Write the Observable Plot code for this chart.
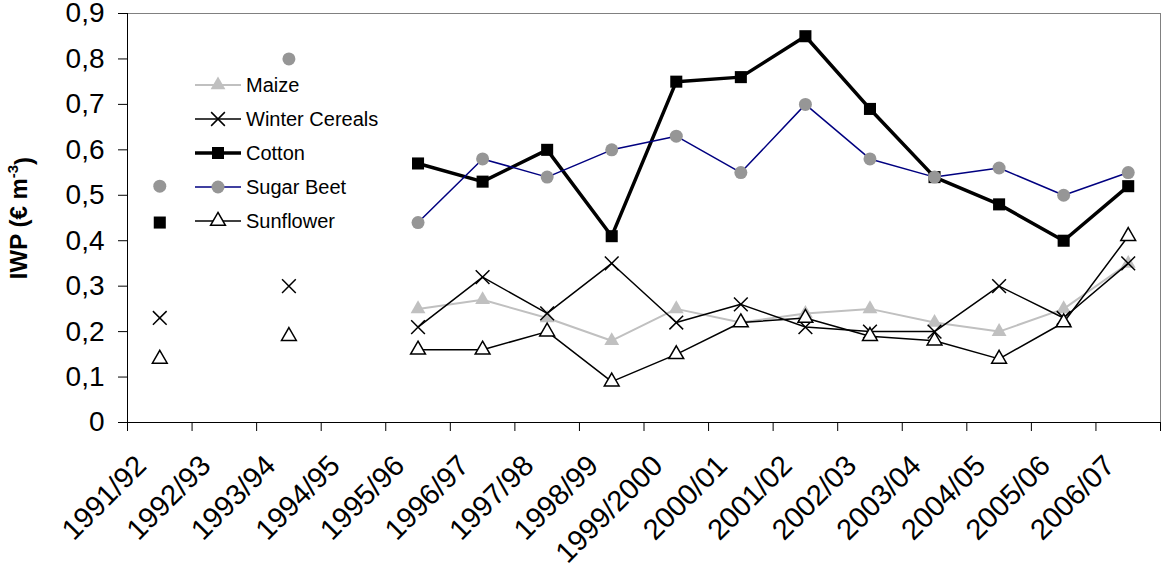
<!DOCTYPE html>
<html>
<head>
<meta charset="utf-8">
<script src="https://cdn.jsdelivr.net/npm/d3@7"></script>
<script src="https://cdn.jsdelivr.net/npm/@observablehq/plot@0.6"></script>
<style>
  body { margin: 0; background: white; }
</style>
</head>
<body>
<div id="chart"></div>
<script>
// campañas
const years = ["1991/92", "1992/93", "1993/94", "1994/95", "1995/96", "1996/97", "1997/98", "1998/99",
  "1999/2000", "2000/01", "2001/02", "2002/03", "2003/04", "2004/05", "2005/06", "2006/07"]

// IWP por cultivo (null = sin dato)
const maize         = [null, null, null, null, 0.25, 0.27, 0.23, 0.18, 0.25, 0.22, 0.24, 0.25, 0.22, 0.20, 0.25, 0.35]
const winterCereals = [0.23, null, 0.30, null, 0.21, 0.32, 0.24, 0.35, 0.22, 0.26, 0.21, 0.20, 0.20, 0.30, 0.23, 0.35]
const cotton        = [0.44, null, null, null, 0.57, 0.53, 0.60, 0.41, 0.75, 0.76, 0.85, 0.69, 0.54, 0.48, 0.40, 0.52]
const sugarBeet     = [0.52, null, 0.80, null, 0.44, 0.58, 0.54, 0.60, 0.63, 0.55, 0.70, 0.58, 0.54, 0.56, 0.50, 0.55]
const sunflower     = [0.14, null, 0.19, null, 0.16, 0.16, 0.20, 0.09, 0.15, 0.22, 0.23, 0.19, 0.18, 0.14, 0.22, 0.41]

const yTicks = [0, 0.1, 0.2, 0.3, 0.4, 0.5, 0.6, 0.7, 0.8, 0.9]

// estilo de cada serie
const series = [
  {name: "Maize", values: maize, line: "#c0c0c0", lw: 2, symbol: "triangle", fill: "#c0c0c0", stroke: "none", r: 5.5},
  {name: "Winter Cereals", values: winterCereals, line: "black", lw: 1.5, symbol: "times", fill: "none", stroke: "black", r: 6.3},
  {name: "Cotton", values: cotton, line: "black", lw: 3.5, symbol: "square", fill: "black", stroke: "none", r: 6.8},
  {name: "Sugar Beet", values: sugarBeet, line: "#000080", lw: 1.5, symbol: "circle", fill: "#969696", stroke: "none", r: 6.5},
  {name: "Sunflower", values: sunflower, line: "black", lw: 1.5, symbol: "triangle", fill: "white", stroke: "black", r: 5.5},
]

const width = 1163, height = 574
const marginLeft = 127, marginRight = 3, marginTop = 13, marginBottom = 152
const step = (width - marginLeft - marginRight) / years.length
const plotH = height - marginTop - marginBottom

const comma = d => d === 0 ? "0" : d3.format(".1f")(d).replace(".", ",")

let marks = [
  Plot.frame({stroke: "#808080"}),
  // marcas del eje x en los limites de cada categoria
  Plot.ruleX(years, {x: d => d, dx: -step / 2, insetTop: plotH, insetBottom: -9, stroke: "black"}),
  Plot.ruleX([years[years.length - 1]], {x: d => d, dx: step / 2, insetTop: plotH, insetBottom: -9, stroke: "black"}),
  Plot.ruleX([years[0]], {x: d => d, dx: -step / 2, stroke: "black"}),
  Plot.ruleY([0], {stroke: "black"}),
]

series.forEach(s => {
  const rows = years.map((y, i) => ({year: y, value: s.values[i]}))
  marks.push(Plot.lineY(rows, {x: "year", y: "value", stroke: s.line, strokeWidth: s.lw}))
  marks.push(Plot.dot(rows, {
    x: "year", y: "value", symbol: () => s.symbol, r: s.r,
    fill: s.fill, stroke: s.stroke, strokeWidth: 1.5
  }))
})

let chart = Plot.plot({
  width, height, marginLeft, marginRight, marginTop, marginBottom,
  marks,
  x: {
    type: "point", domain: years, padding: 0.5, round: false,
    tickSize: 0, tickRotate: -45, tickPadding: 20, label: null,
  },
  y: {
    domain: [0, 0.9], ticks: yTicks, tickFormat: comma,
    tickSize: 9, tickPadding: 14, label: null,
  },
  symbol: {type: "identity"},
  style: {
    fontFamily: "'Liberation Sans', Arial, sans-serif",
    fontSize: "28px",
    color: "black",
    background: "white",
  },
})

const svg = d3.select(chart)
svg.selectAll("[aria-label='x-axis tick label'] text, [aria-label='x-axis'] text")
  .attr("dx", -26).style("font-size", "29px")

// titulo del eje y
const ylab = svg.append("text")
  .attr("transform", "translate(27,218) rotate(-90)")
  .attr("text-anchor", "middle")
  .style("font-weight", "bold")
  .style("font-size", "24px")
ylab.append("tspan").text("IWP (€ m")
ylab.append("tspan").attr("dy", "-0.6em").style("font-size", "15px").text("-3")
ylab.append("tspan").attr("dy", "0.6em").text(")")

// leyenda dentro del grafico
const legend = svg.append("g").style("font-size", "20px").attr("text-anchor", "start")
series.forEach((s, i) => {
  const y = 85 + i * 34
  const g = legend.append("g").attr("transform", `translate(0,${y})`)
  g.append("line").attr("x1", 195).attr("x2", 241)
    .attr("stroke", s.line).attr("stroke-width", s.lw)
  const sym = s.symbol === "times" ? d3.symbolTimes : s.symbol === "square" ? d3.symbolSquare
    : s.symbol === "circle" ? d3.symbolCircle : d3.symbolTriangle
  g.append("path").attr("transform", "translate(218,0)")
    .attr("d", d3.symbol(sym, Math.PI * s.r * s.r)())
    .attr("fill", s.fill).attr("stroke", s.stroke).attr("stroke-width", 1.5)
  g.append("text").attr("x", 246).attr("dy", "0.35em").text(s.name)
})

d3.select('#chart').append(() => chart)
</script>
</body>
</html>
